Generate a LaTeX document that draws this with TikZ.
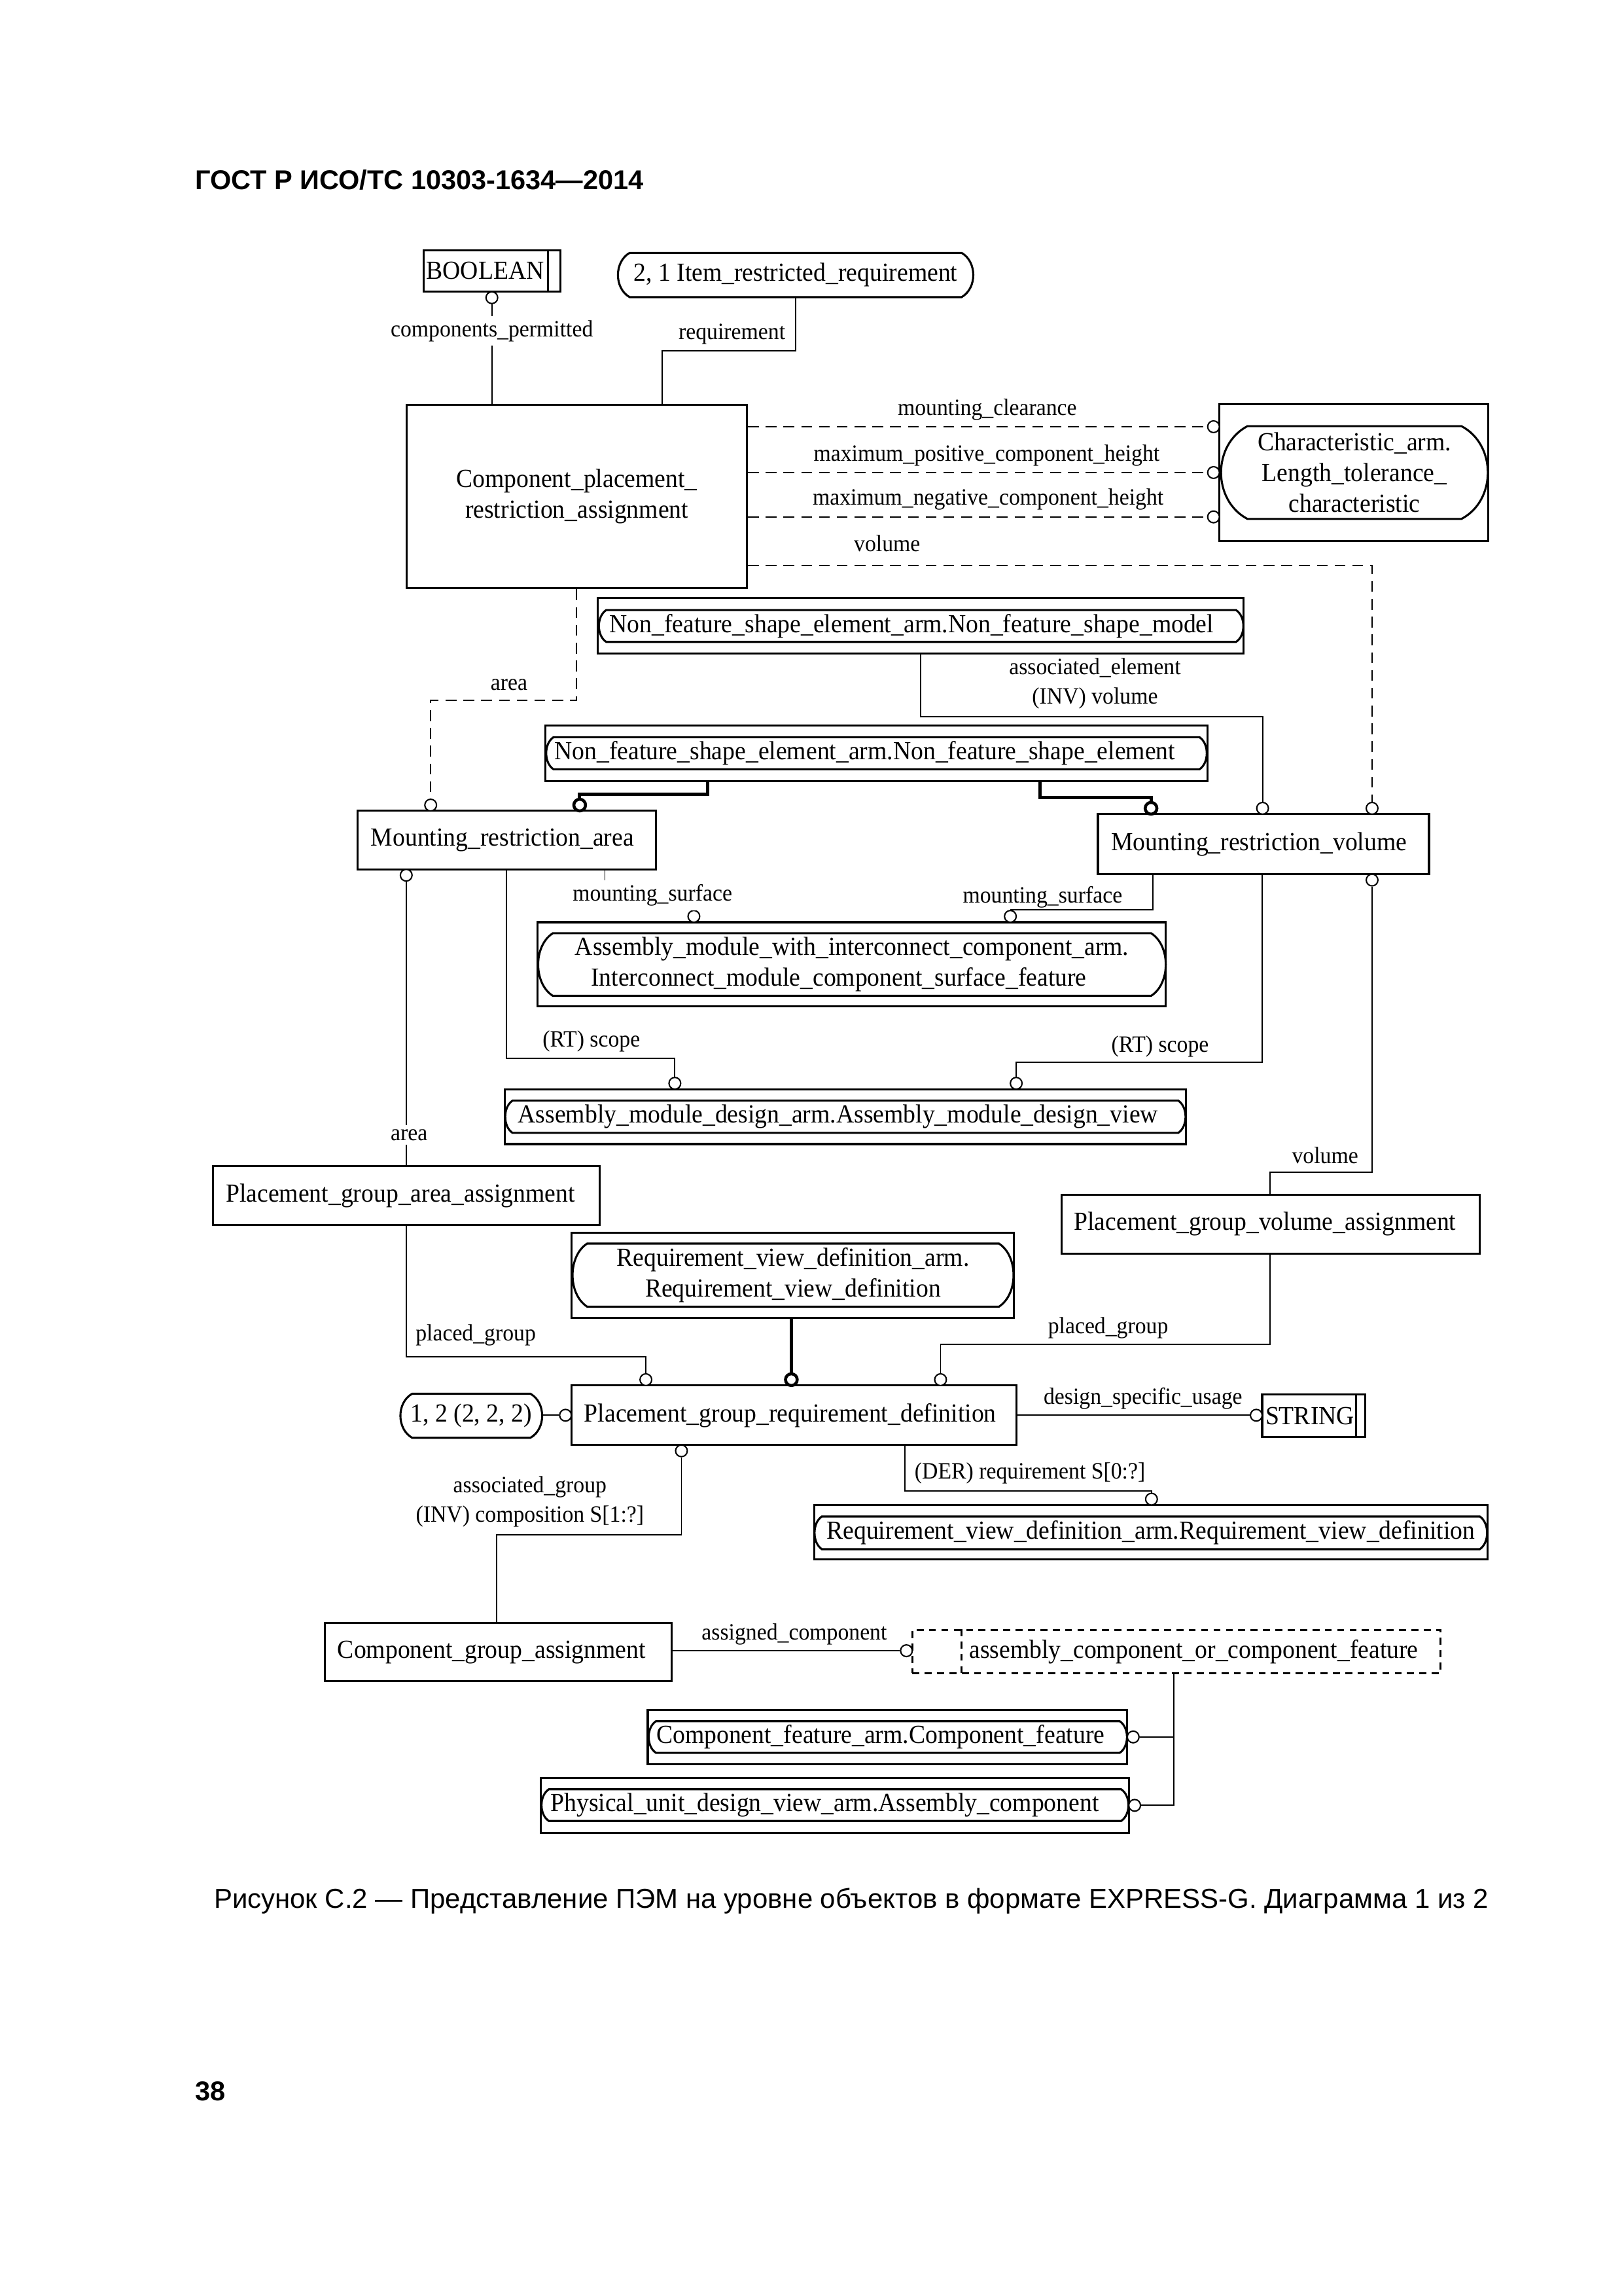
\documentclass[tikz,border=0pt]{standalone}
\usepackage{fontspec}
\setmainfont{Liberation Serif}
\newfontfamily\hdrfont{Liberation Sans}
\newfontfamily\dfont[FakeStretch=0.945]{Liberation Serif}
\usetikzlibrary{calc}
\newlength\PX
\setlength\PX{0.18936mm}
\newcommand\stad[2]{%
 \draw[line width=0.75pt]
  ($(#1.north west)+(#2,0)$) -- ($(#1.north east)+(-#2,0)$)
  .. controls ($(#1.north east)!0.2!(#1.south east)+(#2/3,0)$) and ($(#1.north east)!0.8!(#1.south east)+(#2/3,0)$) .. ($(#1.south east)+(-#2,0)$)
  -- ($(#1.south west)+(#2,0)$)
  .. controls ($(#1.north west)!0.8!(#1.south west)+(-#2/3,0)$) and ($(#1.north west)!0.2!(#1.south west)+(-#2/3,0)$) .. ($(#1.north west)+(#2,0)$) -- cycle;}
\tikzset{
 ent/.style={draw, line width=0.75pt, rectangle, inner sep=0pt, font=\dfont\fontsize{9.6}{11.3}\selectfont, align=center},
 stn/.style={inner sep=0pt, font=\dfont\fontsize{9.6}{11.3}\selectfont, align=center},
 wh/.style 2 args={minimum width=#1*\PX, minimum height=#2*\PX},
 cn/.style={line width=0.45pt},
 dl/.style={line width=0.45pt, dash pattern=on 1.4mm off 0.9mm},
 thk/.style={line width=1.2pt},
 oc/.style={circle, draw, line width=0.5pt, fill=white, inner sep=0pt, minimum size=8*\PX},
 ocb/.style={oc, line width=1.1pt},
 lbl/.style={font=\dfont\fontsize{8.6}{10.8}\selectfont, align=center, inner sep=0.5pt},
 lblw/.style={lbl, fill=white, inner sep=1.5pt},
 sel/.style={dash pattern=on 0.9mm off 0.7mm},
}
\begin{document}
\begin{tikzpicture}[x=0.18936mm, y=-0.18936mm]
\useasboundingbox (0,0) rectangle (1109,1568);

% page texts
\node[anchor=west, font=\hdrfont\bfseries\fontsize{10}{12}\selectfont, inner sep=0pt] (hdr) at (133,123) {ГОСТ Р ИСО/ТС 10303-1634—2014};
\node[font=\hdrfont\fontsize{10.1}{12}\selectfont, inner sep=0pt] (cap) at (581.5,1298) {Рисунок С.2 — Представление ПЭМ на уровне объектов в формате EXPRESS-G. Диаграмма 1 из 2};
\node[anchor=west, font=\hdrfont\bfseries\fontsize{10}{12}\selectfont, inner sep=0pt] (pg) at (133,1428) {38};

% entity boxes
\node[ent, wh={93.3}{28}] (bool) at (336,185) {BOOLEAN\hspace*{9\PX}};
\draw[line width=0.75pt] ([xshift=-9.2*\PX]bool.north east) -- ([xshift=-9.2*\PX]bool.south east);

\node[stn, wh={242}{29.5}] (irr) at (543.5,187.8) {2, 1 Item\_restricted\_requirement};
\stad{irr}{8}

\node[ent, wh={232.3}{125.5}] (cpra) at (394.05,339.05) {Component\_placement\_\\restriction\_assignment};

\node[ent, wh={183.5}{93.4}] (char) at (924.75,322.7) {};
\node[stn, wh={181.5}{62.6}] (chari) at (925.25,322.7) {Characteristic\_arm.\\Length\_tolerance\_\\characteristic};
\stad{chari}{18}

\node[ent, wh={441.1}{38}] (nfsm) at (629.05,427.4) {};
\node[stn, wh={439.5}{21}] (nfsmi) at (629.25,427.5) {Non\_feature\_shape\_element\_arm.Non\_feature\_shape\_model\hspace*{13\PX}};
\stad{nfsmi}{5}

\node[ent, wh={452.3}{37.7}] (nfse) at (598.65,514.45) {};
\node[stn, wh={450.5}{21.2}] (nfsei) at (598.75,514.4) {Non\_feature\_shape\_element\_arm.Non\_feature\_shape\_element\hspace*{16\PX}};
\stad{nfsei}{5}

\node[ent, wh={204}{40}] (mra) at (346.2,573.75) {Mounting\_restriction\_area\hspace*{6\PX}};
\node[ent, wh={226.2}{41}] (mrv) at (863.1,576.5) {Mounting\_restriction\_volume\hspace*{6\PX}};

\node[ent, wh={429.1}{57.4}] (imc) at (581.85,658.5) {};
\node[stn, wh={428}{42}] (imci) at (582,658.7) {Assembly\_module\_with\_interconnect\_component\_arm.\\Interconnect\_module\_component\_surface\_feature\hspace*{18\PX}};
\stad{imci}{10}

\node[ent, wh={465.1}{37.5}] (amdv) at (577.45,762.55) {};
\node[stn, wh={464}{21.3}] (amdvi) at (577.5,762.65) {Assembly\_module\_design\_arm.Assembly\_module\_design\_view\hspace*{10\PX}};
\stad{amdvi}{5}

\node[ent, wh={264.2}{40.1}] (pgaa) at (277.6,816.45) {Placement\_group\_area\_assignment\hspace*{8\PX}};
\node[ent, wh={285.6}{40.2}] (pgva) at (868.2,835.9) {Placement\_group\_volume\_assignment\hspace*{8\PX}};

\node[ent, wh={302.2}{58.1}] (rvd2) at (541.4,870.95) {};
\node[stn, wh={300.5}{42.4}] (rvd2i) at (541.75,870.8) {Requirement\_view\_definition\_arm.\\Requirement\_view\_definition};
\stad{rvd2i}{10}

\node[ent, wh={304.1}{40.6}] (pgrd) at (542.35,966.5) {Placement\_group\_requirement\_definition\hspace*{5\PX}};

\node[stn, wh={96.1}{29.3}] (st122) at (321.95,966.85) {1, 2 (2, 2, 2)};
\stad{st122}{8}

\node[ent, wh={70.3}{29.3}] (str) at (897.35,966.85) {STRING\hspace*{5\PX}};
\draw[line width=0.75pt] ([xshift=-6.8*\PX]str.north east) -- ([xshift=-6.8*\PX]str.south east);

\node[ent, wh={459.8}{37.2}] (rvd1) at (786.1,1046.4) {};
\node[stn, wh={458.7}{21.6}] (rvd1i) at (786.15,1046.8) {Requirement\_view\_definition\_arm.Requirement\_view\_definition};
\stad{rvd1i}{5}

\node[ent, wh={237.1}{39.9}] (cga) at (340.35,1128.25) {Component\_group\_assignment\hspace*{9\PX}};

\node[ent, sel, wh={361}{29.3}] (acocf) at (803.7,1127.85) {\hspace*{23.6\PX}assembly\_component\_or\_component\_feature};
\draw[line width=0.75pt, sel] ([xshift=34.5*\PX]acocf.north west) -- ([xshift=34.5*\PX]acocf.south west);

\node[ent, wh={327.6}{37.2}] (cf) at (606.3,1186.2) {};
\node[stn, wh={326}{20.9}] (cfi) at (606.5,1186.25) {Component\_feature\_arm.Component\_feature\hspace*{10\PX}};
\stad{cfi}{5}

\node[ent, wh={401.5}{37.6}] (pudv) at (570.35,1232.9) {};
\node[stn, wh={400.2}{20.9}] (pudvi) at (570.4,1232.75) {Physical\_unit\_design\_view\_arm.Assembly\_component\hspace*{14\PX}};
\stad{pudvi}{5}

% circles
\node[oc] (cb) at (336,203.3) {};
\node[oc] (cc1) at (829,291.4) {};
\node[oc] (cc2) at (829,322.7) {};
\node[oc] (cc3) at (829,353) {};
\node[oc] (cvol) at (937.3,552) {};
\node[oc] (carea) at (294.2,549.8) {};
\node[oc] (cae) at (862.5,552) {};
\node[ocb] (ct1) at (396,549.8) {};
\node[ocb] (ct2) at (786.3,552) {};
\node[oc] (cma) at (277.5,597.7) {};
\node[oc] (cmv) at (937.3,601) {};
\node[oc] (cms1) at (474,625.8) {};
\node[oc] (cms2) at (690.2,625.8) {};
\node[oc] (cs1) at (461,739.8) {};
\node[oc] (cs2) at (694.2,739.8) {};
\node[oc] (cpg1) at (441.2,942.2) {};
\node[ocb] (ct3) at (540.6,942.2) {};
\node[oc] (cpg2) at (642.5,942.2) {};
\node[oc] (cl) at (386.3,966.5) {};
\node[oc] (cstr) at (858.2,966.5) {};
\node[oc] (cag) at (465.5,990.8) {};
\node[oc] (crq) at (786.6,1023.8) {};
\node[oc] (cac) at (619.2,1127.3) {};
\node[oc] (ccf) at (774.1,1186.2) {};
\node[oc] (cpu) at (775.1,1232.9) {};

% connectors
\draw[cn] (cb.south) -- (cb.south |- cpra.north);
\draw[cn] (irr.south) -- ++(0,36.5) -| (cpra.north -| 452.4,0);
\draw[dl] (cpra.east |- cc1) -- (cc1.west);
\draw[dl] (cpra.east |- cc2) -- (cc2.west);
\draw[dl] (cpra.east |- cc3) -- (cc3.west);
\draw[dl] (cpra.east |- 0,386) -| (cvol.north);
\draw[dl] (cpra.south -| 393.9,0) -- ++(0,75.8) -| (carea.north);
\draw[cn] (nfsm.south -| 628.7,0) -- ++(0,42.5) -| (cae.north);
\draw[thk] (nfse.south -| 483.4,0) -- ++(0,8.5) -| (ct1.north);
\draw[thk] (nfse.south -| 710.6,0) -- ++(0,10.7) -| (ct2.north);
\draw[cn] (cma.south) -- (cma.south |- pgaa.north);
\draw[cn] (mra.south -| 345.9,0) -- ++(0,128.2) -| (cs1.north);
\draw[cn] (mra.south -| 413.2,0) |- (cms1.north);
\draw[cn] (mrv.south -| 787.5,0) |- (cms2.north);
\draw[cn] (mrv.south -| 862.4,0) -- ++(0,127.9) -| (cs2.north);
\draw[cn] (cmv.south) -- ++(0,195.1) -| (pgva.north -| 867.5,0);
\draw[cn] (pgaa.south) -- ++(0,89.5) -| (cpg1.north);
\draw[cn] (pgva.south -| 867.5,0) -- ++(0,61.4) -| (cpg2.north);
\draw[thk] (rvd2.south -| ct3) -- (ct3.north);
\draw[cn] (st122.east |- cl) -- (cl.west);
\draw[cn] (pgrd.east |- cstr) -- (cstr.west);
\draw[cn] (cag.south) -- ++(0,52.8) -| (cga.north -| 339.4,0);
\draw[cn] (pgrd.south -| 618.3,0) -- ++(0,30.6) -| (crq.north);
\draw[cn] (cga.east |- cac) -- (cac.west);
\draw[cn] (acocf.south -| 801.9,0) |- (cpu.east);
\draw[cn] (acocf.south -| 801.9,0) |- (ccf.east);

% labels
\node[lblw] (l1) at (336,226) {components\_permitted};
\node[lbl] (l2) at (500,228) {requirement};
\node[lbl] (l3) at (674.4,280) {mounting\_clearance};
\node[lbl] (l4) at (674,311) {maximum\_positive\_component\_height};
\node[lbl] (l5) at (675,341) {maximum\_negative\_component\_height};
\node[lbl] (l6) at (606,371) {volume};
\node[lbl] (l7) at (347.7,467.6) {area};
\node[lbl] (l8) at (748,467) {associated\_element\\(INV) volume};
\node[lblw] (l9) at (445.7,611.5) {mounting\_surface};
\node[lbl] (l10) at (712.2,612.5) {mounting\_surface};
\node[lbl] (l11) at (404,711) {(RT) scope};
\node[lbl] (l12) at (792.5,714.5) {(RT) scope};
\node[lblw] (l13) at (279.5,775) {area};
\node[lbl] (l14) at (905.2,789) {volume};
\node[lbl] (l15) at (325,912) {placed\_group};
\node[lbl] (l16) at (757,907) {placed\_group};
\node[lbl] (l17) at (780.8,955) {design\_specific\_usage};
\node[lbl] (l18) at (703.6,1006) {(DER) requirement S[0:?]};
\node[lbl] (l19) at (362,1025.5) {associated\_group\\(INV) composition S[1:?]};
\node[lbl] (l20) at (542.6,1116) {assigned\_component};
\end{tikzpicture}
\end{document}
